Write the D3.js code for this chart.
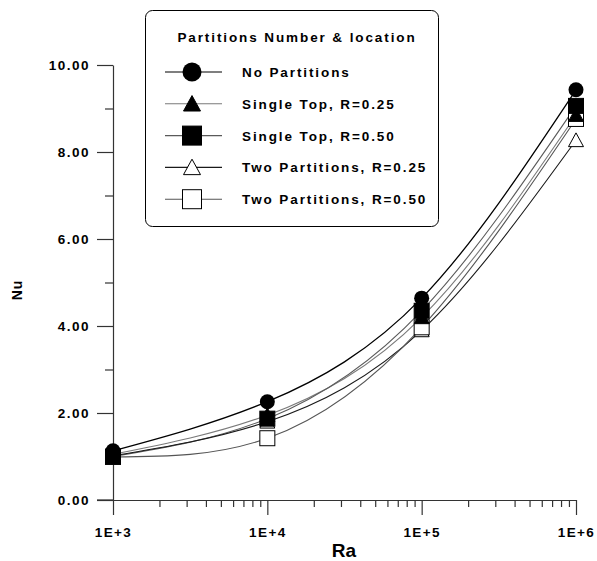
<!DOCTYPE html>
<html>
<head>
<meta charset="utf-8">
<script src="https://cdn.jsdelivr.net/npm/d3@7"></script>
<style>
html,body{margin:0;padding:0;background:#fff;}
svg text{font-family:"Liberation Sans",Arial,sans-serif;font-weight:bold;fill:#000;}
</style>
</head>
<body>
<svg id="chart" width="597" height="561"></svg>
<script>
// ---- data ----
const raValues = [1e3, 1e4, 1e5, 1e6];
const seriesNames = ["No Partitions", "Single Top, R=0.25", "Single Top, R=0.50", "Two Partitions, R=0.25", "Two Partitions, R=0.50"];
const nuNoPartitions = [1.13, 2.26, 4.64, 9.43];
const nuSingleTop025 = [1.05, 1.95, 4.20, 8.85];
const nuSingleTop050 = [1.00, 1.87, 4.35, 9.06];
const nuTwo025 = [1.02, 1.80, 3.90, 8.27];
const nuTwo050 = [0.99, 1.42, 3.97, 8.76];
const yTickValues = [0, 2, 4, 6, 8, 10];
const yMinorTicks = [1, 3, 5, 7, 9];
const xTickLabels = ["1E+3", "1E+4", "1E+5", "1E+6"];
const legendTitle = "Partitions Number & location";

const seriesValues = [nuNoPartitions, nuSingleTop025, nuSingleTop050, nuTwo025, nuTwo050];
const markers = ["circle", "triangleFilled", "squareFilled", "triangleOpen", "squareOpen"];
const lineColors = ["#000", "#7a7a7a", "#5a5a5a", "#1a1a1a", "#555"];

const svg = d3.select("#chart");
const x = d3.scaleLog().domain([1e3, 1e6]).range([113, 576]);
const y = d3.scaleLinear().domain([0, 10]).range([500, 65]);

// ---- axes ----
const yAxis = d3.axisLeft(y).tickValues(yTickValues).tickSize(16).tickSizeOuter(0)
  .tickPadding(7).tickFormat(d3.format(".2f"));
const gy = svg.append("g").attr("transform", "translate(113,0)").call(yAxis);
gy.selectAll(".tick text").style("font-size", "13.5px").style("letter-spacing", "1.5px");
gy.selectAll("line, path").attr("stroke", "#333").attr("stroke-width", 1.2);
const gyMinor = svg.append("g").attr("transform", "translate(113,0)")
  .call(d3.axisLeft(y).tickValues(yMinorTicks).tickSize(8).tickSizeOuter(0).tickFormat(""));
gyMinor.select(".domain").remove();
gyMinor.selectAll("line").attr("stroke", "#333").attr("stroke-width", 1.2);

const xMinor = [];
[1e3, 1e4, 1e5].forEach(b => { for (let k = 2; k <= 9; k++) xMinor.push(b * k); });
const xAxis = d3.axisBottom(x).tickValues(raValues).tickSize(15).tickSizeOuter(0)
  .tickPadding(12).tickFormat((d, i) => xTickLabels[i]);
const gx = svg.append("g").attr("transform", "translate(0,500)").call(xAxis);
gx.selectAll(".tick text").style("font-size", "13.5px").style("letter-spacing", "1.4px");
gx.selectAll("line, path").attr("stroke", "#333").attr("stroke-width", 1.2);
const gxMinor = svg.append("g").attr("transform", "translate(0,500)")
  .call(d3.axisBottom(x).tickValues(xMinor).tickSize(7).tickSizeOuter(0).tickFormat(""));
gxMinor.select(".domain").remove();
gxMinor.selectAll("line").attr("stroke", "#333").attr("stroke-width", 1.2);
svg.append("line").attr("x1", 97).attr("x2", 113).attr("y1", y(0)).attr("y2", y(0))
  .attr("stroke", "#333").attr("stroke-width", 1.2);

svg.append("text").attr("x", 344).attr("y", 557).attr("text-anchor", "middle")
  .style("font-size", "19px").text("Ra");
svg.append("text").attr("transform", "translate(22,290) rotate(-90)").attr("text-anchor", "middle")
  .style("font-size", "14px").style("letter-spacing", "1px").text("Nu");

// ---- curves ----
const line = d3.line().x((d, i) => x(raValues[i])).y(d => y(d)).curve(d3.curveNatural);
seriesValues.forEach((vals, si) => {
  svg.append("path").attr("d", line(vals)).attr("fill", "none")
    .attr("stroke", lineColors[si]).attr("stroke-width", si === 0 ? 1.3 : 1.1);
});

// ---- markers ----
function drawMarker(g, type, cx, cy, s) {
  if (type === "circle") {
    g.append("circle").attr("cx", cx).attr("cy", cy).attr("r", s / 2).attr("fill", "#000");
  } else if (type === "squareFilled" || type === "squareOpen") {
    g.append("rect").attr("x", cx - s / 2).attr("y", cy - s / 2).attr("width", s).attr("height", s)
      .attr("fill", type === "squareFilled" ? "#000" : "#fff").attr("stroke", "#000").attr("stroke-width", 1);
  } else {
    const h = s * 0.85;
    const pts = [[cx, cy - h / 2 - 1], [cx + s / 2, cy + h / 2], [cx - s / 2, cy + h / 2]];
    g.append("polygon").attr("points", pts.map(p => p.join(",")).join(" "))
      .attr("fill", type === "triangleFilled" ? "#000" : "#fff").attr("stroke", "#000").attr("stroke-width", 1);
  }
}
const mg = svg.append("g");
const drawOrder = [3, 4, 2, 1, 0];
drawOrder.forEach(si => {
  seriesValues[si].forEach((v, i) => drawMarker(mg, markers[si], x(raValues[i]), y(v), 15));
});

// ---- legend ----
const lg = svg.append("g");
lg.append("rect").attr("x", 145.5).attr("y", 10.5).attr("width", 293).attr("height", 216).attr("rx", 7)
  .attr("fill", "#fff").attr("stroke", "#000").attr("stroke-width", 1);
lg.append("text").attr("x", 297).attr("y", 42).attr("text-anchor", "middle")
  .style("font-size", "13.5px").style("letter-spacing", "1.9px").text(legendTitle);
const legendSizes = [19, 17, 19, 17, 19];
seriesNames.forEach((name, i) => {
  const cy = 72 + i * 31.8;
  lg.append("line").attr("x1", 165).attr("x2", 222).attr("y1", cy).attr("y2", cy)
    .attr("stroke", lineColors[i]).attr("stroke-width", 1.1);
  drawMarker(lg, markers[i], 192, cy, legendSizes[i]);
  lg.append("text").attr("x", 242).attr("y", cy + 5)
    .style("font-size", "13.5px").style("letter-spacing", "1.9px").text(name);
});
</script>
</body>
</html>
